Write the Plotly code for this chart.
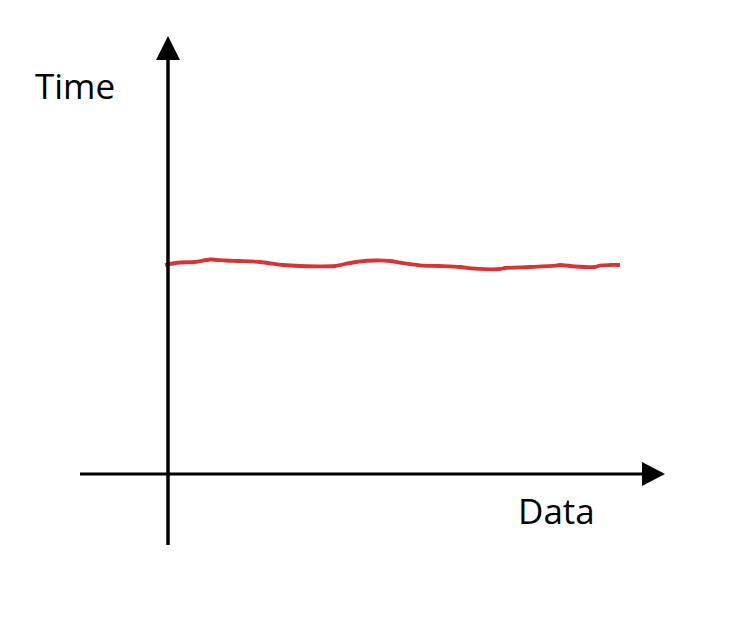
import plotly.graph_objects as go

# Hand-drawn red trace: sample positions along "Data" axis and "Time" values
data_x = [-3, 12, 27, 42, 57, 72, 92, 115, 132, 167, 177, 192, 207, 222, 232, 252,
          272, 292, 307, 332, 337, 362, 387, 392, 407, 427, 432, 442, 452]
time_y = [209, 211.5, 212, 214.5, 213.5, 213, 212, 209, 208, 208, 210, 212.5, 213.5, 213,
          211.3, 208.7, 208, 207, 205.3, 205, 206, 207, 208.3, 209, 207.5, 207, 208.5, 209, 209]

axis_labels = {"x": "Data", "y": "Time"}

W, H = 732, 624
PAGE = 8          # default body margin of the html page
ox, oy = 168, 474  # origin in page pixels

fig = go.Figure()
fig.add_trace(go.Scatter(x=data_x, y=time_y, mode="lines",
                         line=dict(color="#d93434", width=3.8, shape="spline", smoothing=0.8),
                         hoverinfo="skip", showlegend=False))

shapes = [
    dict(type="line", x0=0, x1=0, y0=oy - 545, y1=oy - 58, line=dict(color="black", width=3.5)),
    dict(type="line", x0=80 - ox, x1=644 - ox, y0=0, y1=0, line=dict(color="black", width=3)),
    dict(type="path", path=f"M {156-ox},{oy-60} L {180-ox},{oy-60} L 0,{oy-36} Z",
         fillcolor="black", line=dict(color="black", width=0)),
    dict(type="path", path=f"M {642-ox},{oy-462} L {642-ox},{oy-486} L {665-ox},0 Z",
         fillcolor="black", line=dict(color="black", width=0)),
]

font = dict(family="Open Sans, Noto Sans, sans-serif", size=35, color="black")
annotations = [
    dict(x=74.5 - ox, y=oy - 85, text=axis_labels["y"], showarrow=False, font=font,
         xanchor="center", yanchor="middle"),
    dict(x=556 - ox, y=oy - 510, text=axis_labels["x"], showarrow=False, font=font,
         xanchor="center", yanchor="middle"),
]

fig.update_layout(
    width=W, height=H, margin=dict(l=0, r=0, t=0, b=0),
    paper_bgcolor="white", plot_bgcolor="white",
    xaxis=dict(range=[-(ox - PAGE), W - (ox - PAGE)], visible=False, fixedrange=True),
    yaxis=dict(range=[(oy - PAGE) - H, oy - PAGE], visible=False, fixedrange=True),
    shapes=shapes, annotations=annotations,
)

fig.write_html("out.html")
